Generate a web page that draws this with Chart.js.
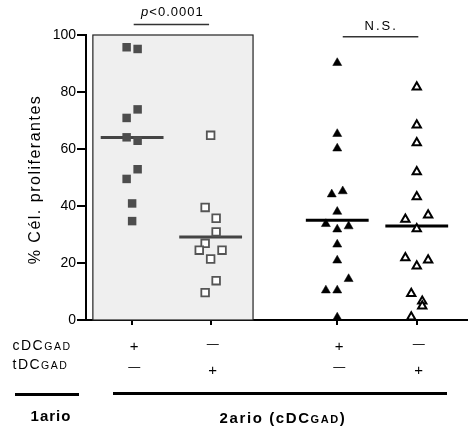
<!DOCTYPE html>
<html>
<head>
<meta charset="utf-8">
<script src="https://cdn.jsdelivr.net/npm/chart.js@4.4.1/dist/chart.umd.min.js"></script>
<style>
    body { margin: 0; background: #fff; }
    #fig { display: block; }
</style>
</head>
<body>
<canvas id="fig" width="474" height="431"></canvas>
<script>
// x position of each group on the linear axis
const groupPos = [1, 2, 3.6125, 4.625];
const cdcRow = ['+', '\u2014', '+', '\u2014'];
const tdcRow = ['\u2014', '+', '\u2014', '+'];
const yTicks = [0, 20, 40, 60, 80, 100];

// % proliferating cells per animal, with horizontal jitter offsets
const primCdc = [95.7, 95.1, 73.9, 70.9, 64.1, 62.9, 52.9, 49.5, 40.9, 34.7];
const primCdcJit = [-0.07, 0.07, 0.07, -0.07, -0.07, 0.07, 0.07, -0.07, 0, 0];
const primTdc = [64.8, 39.5, 35.7, 30.9, 26.9, 24.5, 24.5, 21.4, 13.8, 9.6];
const primTdcJit = [0, -0.07, 0.07, 0.07, -0.07, -0.145, 0.145, 0, 0.07, -0.07];
const secCdc = [90.2, 65.3, 60.2, 44.1, 45.2, 38, 33.7, 31.8, 32.9, 26.5, 20.9, 14.4, 10.4, 10.4, 0.9];
const secCdcJit = [0, 0, 0, -0.07, 0.07, 0, -0.145, 0, 0.145, 0, 0, 0.145, -0.145, 0, 0];
const secTdc = [81.7, 68.4, 62.2, 52, 43.2, 35.3, 36.8, 32, 21.8, 18.9, 21, 9.3, 6.6, 4.9, 1];
const secTdcJit = [0, 0, 0, 0, 0, -0.145, 0.145, 0, -0.145, 0, 0.145, -0.07, 0.07, 0.07, -0.07];

const FONT = "Arial, 'Liberation Sans', sans-serif";

function pts(vals, jit, pos) {
    return vals.map((v, i) => ({ x: pos + jit[i], y: v }));
}

function meanLine(vals, pos, color) {
    let m = vals.reduce((a, b) => a + b, 0) / vals.length;
    return {
        type: 'line',
        data: [{ x: pos - 0.4, y: m }, { x: pos + 0.4, y: m }],
        borderColor: color,
        borderWidth: 3,
        pointRadius: 0,
        clip: false
    };
}

const decor = {
    id: 'decor',
    beforeDatasetsDraw(chart) {
        const { ctx, scales: { x, y } } = chart;
        let l = x.getPixelForValue(0.5), r = x.getPixelForValue(2.54);
        let t = y.getPixelForValue(100), b = y.getPixelForValue(0);
        ctx.save();
        ctx.fillStyle = '#efefef';
        ctx.fillRect(l, t, r - l, b - t);
        ctx.strokeStyle = '#222';
        ctx.lineWidth = 1.2;
        ctx.strokeRect(l, t, r - l, b - t);
        ctx.restore();
    },
    afterDraw(chart) {
        const { ctx, chartArea, scales: { x } } = chart;
        ctx.save();
        ctx.fillStyle = '#000';
        ctx.strokeStyle = '#000';

        // y title
        ctx.save();
        ctx.translate(36, (chartArea.top + chartArea.bottom) / 2 + 2);
        ctx.rotate(-Math.PI / 2);
        ctx.font = '16px ' + FONT;
        ctx.letterSpacing = '1.5px';
        ctx.textAlign = 'center';
        ctx.textBaseline = 'middle';
        ctx.fillText('% C\u00e9l. proliferantes', 0, 0);
        ctx.restore();

        // significance marks
        ctx.letterSpacing = '1px';
        ctx.textBaseline = 'middle';
        ctx.textAlign = 'left';
        ctx.font = 'italic 13px ' + FONT;
        let wp = ctx.measureText('p').width;
        ctx.font = '13px ' + FONT;
        let wv = ctx.measureText('<0.0001').width;
        let sx = (x.getPixelForValue(groupPos[0]) + x.getPixelForValue(groupPos[1])) / 2 - (wp + wv) / 2 + 1;
        ctx.font = 'italic 13px ' + FONT;
        ctx.fillText('p', sx, 12);
        ctx.font = '13px ' + FONT;
        ctx.fillText('<0.0001', sx + wp, 12);

        ctx.lineWidth = 1.5;
        ctx.strokeStyle = '#333';
        ctx.beginPath();
        ctx.moveTo(x.getPixelForValue(groupPos[0] + 0.02), 24.5);
        ctx.lineTo(x.getPixelForValue(groupPos[1] - 0.02), 24.5);
        ctx.moveTo(x.getPixelForValue(groupPos[2] + 0.07), 36.7);
        ctx.lineTo(x.getPixelForValue(groupPos[3] + 0.02), 36.7);
        ctx.stroke();

        ctx.letterSpacing = '2px';
        ctx.textAlign = 'center';
        ctx.fillText('N.S.', x.getPixelForValue(4.16) + 1, 26);

        // row labels with small caps subscript
        ctx.textAlign = 'left';
        ctx.textBaseline = 'alphabetic';
        ctx.letterSpacing = '1.5px';
        [['cDC', 350], ['tDC', 369]].forEach(([lab, by]) => {
            ctx.font = '14px ' + FONT;
            ctx.fillText(lab, 12.5, by);
            let w = ctx.measureText(lab).width;
            ctx.font = '10.5px ' + FONT;
            ctx.fillText('GAD', 12.5 + w, by);
        });

        // +/- per group
        ctx.letterSpacing = '0px';
        ctx.textAlign = 'center';
        ctx.textBaseline = 'middle';
        groupPos.forEach((p, i) => {
            let px = x.getPixelForValue(p);
            ctx.font = (cdcRow[i] === '+' ? '15px ' : '12px ') + FONT;
            ctx.fillText(cdcRow[i], px + 2, cdcRow[i] === '+' ? 347 : 345);
            ctx.font = (tdcRow[i] === '+' ? '15px ' : '12px ') + FONT;
            ctx.fillText(tdcRow[i], px + 2, tdcRow[i] === '+' ? 371 : 368);
        });

        // group brackets
        ctx.lineWidth = 3;
        ctx.strokeStyle = '#000';
        ctx.beginPath();
        ctx.moveTo(15, 394.5);
        ctx.lineTo(79, 394.5);
        ctx.moveTo(113, 393.5);
        ctx.lineTo(447, 393.5);
        ctx.stroke();

        ctx.letterSpacing = '1px';
        ctx.textAlign = 'center';
        ctx.font = 'bold 15px ' + FONT;
        ctx.fillText('1ario', 51, 417);

        ctx.letterSpacing = '1.6px';
        let parts = [['2ario (cDC', 15], ['GAD', 11], [')', 15]];
        let tot = 0;
        parts.forEach(([s, f]) => {
            ctx.font = 'bold ' + f + 'px ' + FONT;
            tot += ctx.measureText(s).width;
        });
        let cx = 283 - tot / 2;
        ctx.textAlign = 'left';
        ctx.textBaseline = 'alphabetic';
        parts.forEach(([s, f]) => {
            ctx.font = 'bold ' + f + 'px ' + FONT;
            ctx.fillText(s, cx, 422.5);
            cx += ctx.measureText(s).width;
        });
        ctx.restore();
    }
};

new Chart(document.getElementById('fig'), {
    type: 'scatter',
    data: {
        datasets: [
            {
                data: pts(primCdc, primCdcJit, groupPos[0]),
                pointStyle: 'rect', pointRadius: 6,
                backgroundColor: '#4d4d4d', borderColor: '#4d4d4d', borderWidth: 0,
                clip: false
            },
            {
                data: pts(primTdc, primTdcJit, groupPos[1]),
                pointStyle: 'rect', pointRadius: 5.4,
                backgroundColor: '#fff', borderColor: '#555', borderWidth: 1.8,
                clip: false
            },
            {
                data: pts(secCdc, secCdcJit, groupPos[2]),
                pointStyle: 'triangle', pointRadius: 5.2,
                backgroundColor: '#000', borderColor: '#000', borderWidth: 0.5,
                clip: false
            },
            {
                data: pts(secTdc, secTdcJit, groupPos[3]),
                pointStyle: 'triangle', pointRadius: 4.8,
                backgroundColor: '#fff', borderColor: '#000', borderWidth: 2,
                clip: false
            },
            meanLine(primCdc, groupPos[0], '#444'),
            meanLine(primTdc, groupPos[1], '#444'),
            meanLine(secCdc, groupPos[2], '#000'),
            meanLine(secTdc, groupPos[3], '#000')
        ]
    },
    options: {
        responsive: false,
        animation: false,
        layout: { padding: { top: 35, left: 0, right: 0, bottom: 0 } },
        plugins: { legend: { display: false }, tooltip: { enabled: false } },
        scales: {
            x: {
                type: 'linear',
                min: 0.4125,
                max: 5.2625,
                afterBuildTicks(axis) {
                    axis.ticks = groupPos.map(v => ({ value: v }));
                },
                afterFit(axis) { axis.height = 111; },
                ticks: { callback: () => '', padding: 0 },
                grid: { drawOnChartArea: false, tickLength: 5, color: '#000', lineWidth: 2 },
                border: { display: true, color: '#000', width: 2 }
            },
            y: {
                min: 0,
                max: 100,
                afterBuildTicks(axis) {
                    axis.ticks = yTicks.map(v => ({ value: v }));
                },
                afterFit(axis) { axis.width = 86; },
                ticks: { color: '#000', font: { size: 14, family: FONT }, padding: 1 },
                grid: { drawOnChartArea: false, tickLength: 9, color: '#000', lineWidth: 2 },
                border: { display: true, color: '#000', width: 2 }
            }
        }
    },
    plugins: [decor]
});
</script>
</body>
</html>
